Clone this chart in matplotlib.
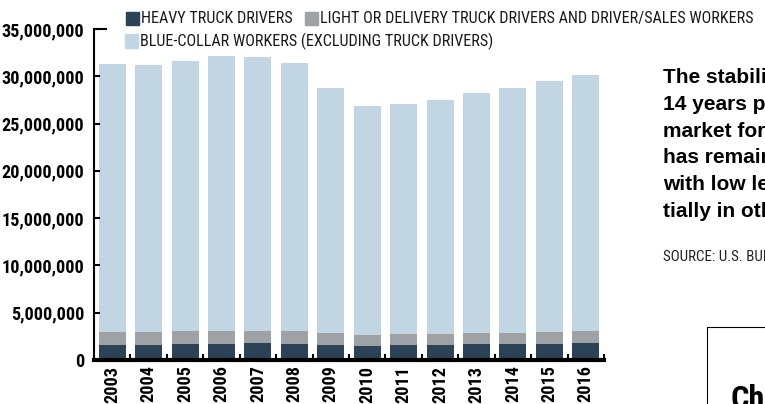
import numpy as np
import matplotlib
matplotlib.use("Agg")
import matplotlib.pyplot as plt
from matplotlib import font_manager
from matplotlib.patches import Rectangle
from matplotlib.ticker import FuncFormatter

# values in millions of workers
years = [2003, 2004, 2005, 2006, 2007, 2008, 2009, 2010, 2011, 2012, 2013, 2014, 2015, 2016]
heavy_truck = [1.55, 1.61, 1.69, 1.72, 1.79, 1.72, 1.58, 1.51, 1.55, 1.61, 1.66, 1.69, 1.72, 1.76]
light_truck = [1.40, 1.34, 1.37, 1.34, 1.27, 1.34, 1.30, 1.16, 1.22, 1.16, 1.19, 1.16, 1.27, 1.33]
blue_collar = [28.35, 28.25, 28.54, 29.04, 28.94, 28.34, 25.92, 24.23, 24.33, 24.73, 25.35, 25.95, 26.51, 27.01]

legend_labels = ["HEAVY TRUCK DRIVERS",
                 "LIGHT OR DELIVERY TRUCK DRIVERS AND DRIVER/SALES WORKERS",
                 "BLUE-COLLAR WORKERS (EXCLUDING TRUCK DRIVERS)"]
colors = ["#2b4257", "#9fa2a5", "#c1d5e3"]

side_text = ["The stability over the", "14 years points to a", "market for truck drivers",
             "has remained steady,", "with low levels of", "tially in other fields"]
source_text = "SOURCE: U.S. BUREAU OF LABOR STATISTICS"

# pick a condensed face if there is one
names = {f.name for f in font_manager.fontManager.ttflist}
stretches = {(f.name, f.stretch) for f in font_manager.fontManager.ttflist}
NARROW = ["DejaVu Sans"]
STRETCH = "normal"
for cand in ["Roboto Condensed", "Liberation Sans Narrow", "Open Sans Condensed"]:
    if cand in names:
        NARROW = [cand, "DejaVu Sans"]
        break
else:
    if any(n == "DejaVu Sans" and s == "condensed" for n, s in stretches):
        STRETCH = "condensed"
BOLD = ["Liberation Sans", "DejaVu Sans"]

W, H = 765, 404
fig = plt.figure(figsize=(W / 100, H / 100), dpi=100)
renderer = fig.canvas.get_renderer()


def fit_size(s, target_px, **kw):
    # font size that makes s about target_px wide
    t = fig.text(0, 0, s, fontsize=10, **kw)
    w = t.get_window_extent(renderer).width
    t.remove()
    return 10 * target_px / w


tick_size = fit_size("35,000,000", 82, family=NARROW, fontweight="bold", fontstretch=STRETCH)
legend_size = fit_size(legend_labels[0], 152, family=NARROW, fontstretch=STRETCH)
source_size = fit_size("SOURCE: U.S. BU", 100, family=NARROW, fontstretch=STRETCH)
box_size = fit_size("Ch", 34, family=NARROW, fontweight="bold", fontstretch=STRETCH)

ax = fig.add_axes([94 / W, 1 - 360 / H, 510 / W, 331 / H])

x = np.arange(len(years))
heavy = np.array(heavy_truck) * 1e6
light = np.array(light_truck) * 1e6
blue = np.array(blue_collar) * 1e6

ax.bar(x, heavy, width=0.74, color=colors[0])
ax.bar(x, light, width=0.74, bottom=heavy, color=colors[1])
ax.bar(x, blue, width=0.74, bottom=heavy + light, color=colors[2])

ax.set_xlim(-0.5, len(years) - 0.5)
ax.set_ylim(0, 35e6)
ax.set_yticks(np.arange(0, 35e6 + 1, 5e6))
ax.yaxis.set_major_formatter(FuncFormatter(lambda v, p: f"{v:,.0f}"))
ax.set_xticks(x)
ax.set_xticklabels([str(y) for y in years], rotation=90)
ax.set_xticks(np.arange(-0.5, len(years), 1), minor=True)

for spine in ["top", "right"]:
    ax.spines[spine].set_visible(False)
ax.spines["left"].set_linewidth(1.5)
ax.spines["bottom"].set_linewidth(3)

ax.tick_params(axis="y", direction="in", length=4, width=1.5, pad=7)
ax.tick_params(axis="x", which="major", length=0, pad=4)
ax.tick_params(axis="x", which="minor", direction="in", length=4, width=1.5)
for lab in ax.get_yticklabels() + ax.get_xticklabels():
    lab.set_family(NARROW)
    lab.set_fontstretch(STRETCH)
    lab.set_fontweight("bold")
    lab.set_fontsize(tick_size)

# longer cap at the top of the y axis
ax.plot([0, 12 / 510], [1, 1], transform=ax.transAxes, color="black", lw=1.5, clip_on=False)


# legend, laid out by hand in two rows
def legend_item(px, py, color, label):
    fig.patches.append(Rectangle((px / W, 1 - (py + 6.5) / H), 13 / W, 13 / H,
                                 transform=fig.transFigure, color=color))
    fig.text((px + 15) / W, 1 - py / H, label, family=NARROW, fontstretch=STRETCH,
             fontsize=legend_size, va="center", ha="left", color="#1a1a1a")


legend_item(126, 18.5, colors[0], legend_labels[0])
legend_item(305, 18.5, colors[1], legend_labels[1])
legend_item(125, 41, colors[2], legend_labels[2])

# side text, cut by the figure edge
for i, line in enumerate(side_text):
    fig.text(663 / W, 1 - (83 + i * 26.8) / H, line, family=BOLD, fontweight="bold",
             fontsize=15, va="baseline", ha="left", color="black")
fig.text(663 / W, 1 - 261 / H, source_text, family=NARROW, fontstretch=STRETCH,
         fontsize=source_size, va="baseline", ha="left", color="#222222")

# box at the bottom right
fig.lines.append(plt.Line2D([707 / W, 707 / W, 1.0], [0, 1 - 327 / H, 1 - 327 / H],
                            transform=fig.transFigure, color="black", lw=0.8))
cap_px = box_size * 100 / 72 * 0.71
fig.text(730 / W, 1 - (385 + cap_px) / H, "Chart", family=NARROW, fontstretch=STRETCH,
         fontweight="bold", fontsize=box_size, va="baseline", ha="left", color="black")

fig.savefig("out.png", dpi=100)
